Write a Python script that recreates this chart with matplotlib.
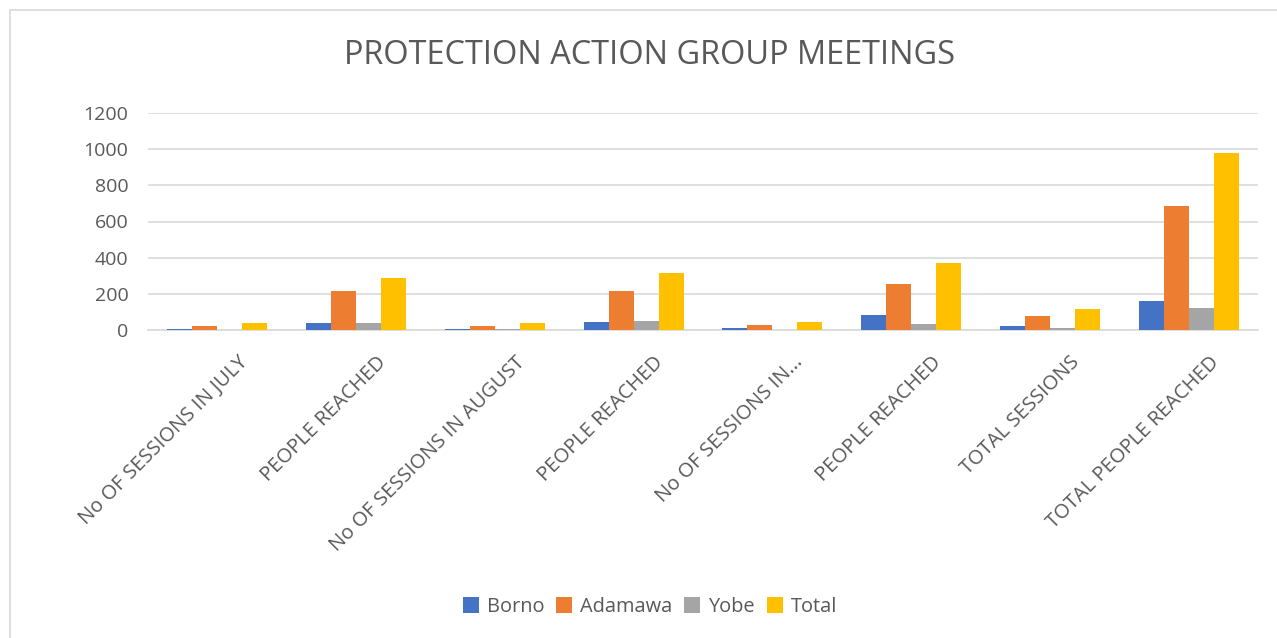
import matplotlib.pyplot as plt
import matplotlib.patches as mpatches
import matplotlib.transforms as mtransforms
import numpy as np

# chart data
categories = ["No OF SESSIONS IN JULY", "PEOPLE REACHED", "No OF SESSIONS IN AUGUST",
              "PEOPLE REACHED", "No OF SESSIONS IN...", "PEOPLE REACHED",
              "TOTAL SESSIONS", "TOTAL PEOPLE REACHED"]
borno = [5, 36, 6, 43, 9, 81, 24, 159]
adamawa = [21, 215, 24, 217, 28, 254, 78, 685]
yobe = [2, 40, 3, 52, 2, 31, 13, 124]
total = [36, 290, 39, 317, 43, 368, 117, 978]
series_names = ["Borno", "Adamawa", "Yobe", "Total"]
colors = ["#4472C4", "#ED7D31", "#A5A5A5", "#FFC000"]
yticks = [0, 200, 400, 600, 800, 1000, 1200]

plt.rcParams['font.family'] = ['Open Sans', 'DejaVu Sans']
text_color = "#595959"

fig = plt.figure(figsize=(12.77, 6.38), dpi=100)
ax = fig.add_axes([148 / 1277, 1 - 330 / 638, 1110 / 1277, 217 / 638])

# light border round the chart area
fig.patches.append(mpatches.Rectangle((10 / 1277, -0.01), 1.0, 1 - 10 / 638 + 0.01,
                                      transform=fig.transFigure, fill=False,
                                      edgecolor="#D9D9D9", linewidth=1.2))

x = np.arange(len(categories))
w = 0.18
for i, (vals, name, c) in enumerate(zip([borno, adamawa, yobe, total], series_names, colors)):
    ax.bar(x + (i - 1.5) * w, vals, width=w, color=c, label=name, zorder=3)

ax.set_xlim(-0.5, len(categories) - 0.5)
ax.set_ylim(0, 1200)
ax.set_yticks(yticks)
ax.set_yticklabels([str(t) for t in yticks], fontsize=14, color=text_color)
ax.yaxis.grid(True, color="#D9D9D9", linewidth=1.2, zorder=0)
ax.tick_params(axis="y", length=0, pad=14)
ax.tick_params(axis="x", length=0, pad=16)
ax.set_xticks(x)
ax.set_xticklabels(categories, rotation=45, ha="right", rotation_mode="anchor",
                   fontsize=14.5, color=text_color)
# Excel puts the label end a bit right of the category centre
offset = mtransforms.ScaledTranslation(0.2, 0, fig.dpi_scale_trans)
for lbl in ax.get_xticklabels():
    lbl.set_transform(lbl.get_transform() + offset)
for s in ["top", "right", "left"]:
    ax.spines[s].set_visible(False)
ax.spines["bottom"].set_color("#D9D9D9")
ax.spines["bottom"].set_linewidth(1.2)

fig.text(650 / 1277, 1 - 56 / 638, "PROTECTION ACTION GROUP MEETINGS", ha="center",
         va="center", fontsize=23.4, color=text_color)

fig.legend(loc="center", bbox_to_anchor=(650 / 1277, 1 - 607 / 638), ncol=4,
           frameon=False, fontsize=14.4, handlelength=0.8, handleheight=0.8,
           handletextpad=0.4, columnspacing=0.6, labelcolor=text_color)

fig.savefig("out.png", dpi=100)
